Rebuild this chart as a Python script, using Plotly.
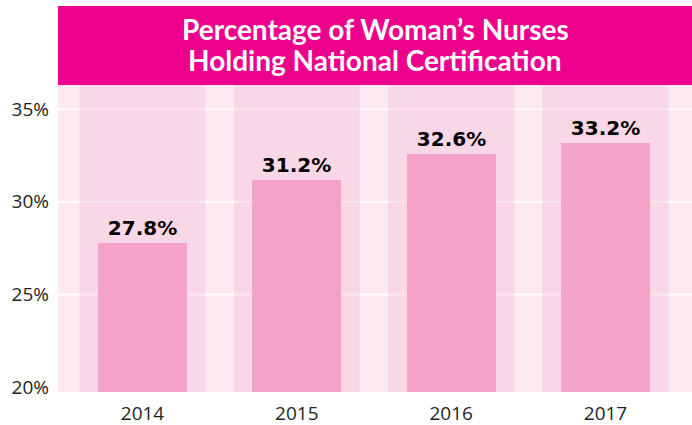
import plotly.graph_objects as go

years = ["2014", "2015", "2016", "2017"]
values = [27.8, 31.2, 32.6, 33.2]
y_ticks = [20, 25, 30, 35]
title_lines = ["Percentage of Woman\u2019s Nurses", "Holding National Certification"]

BANNER = "#EC008C"
BG = "#FBE8F0"
BAND = "rgba(247,196,218,0.45)"
BAR = "rgba(243,158,197,0.93)"

W, H = 692, 425
M_L, M_R, M_T, M_B = 58, 0, 85, 33
plot_h = H - M_T - M_B

def py(px):
    """pixel row (from top) -> paper y"""
    return (H - M_B - px) / plot_h

fig = go.Figure()
fig.add_trace(go.Bar(
    x=list(range(len(years))),
    y=values,
    width=0.577,
    marker=dict(color=BAR, line=dict(width=0)),
    text=[f"{v:.1f}%" for v in values],
    textposition="outside",
    textfont=dict(family="DejaVu Sans", size=20, color="#000000", weight="bold"),
    cliponaxis=False,
    hoverinfo="skip",
))

shapes = []
# white gridlines (not at the bottom tick)
for t in y_ticks[1:]:
    shapes.append(dict(type="line", xref="paper", yref="y", x0=0, x1=1, y0=t, y1=t,
                       line=dict(color="white", width=2), layer="between"))
# category bands
for i in range(len(years)):
    shapes.append(dict(type="rect", xref="x", yref="paper", x0=i - 0.408, x1=i + 0.408,
                       y0=0, y1=1, fillcolor=BAND, line=dict(width=0), layer="between"))
# title banner
shapes.append(dict(type="rect", xref="paper", yref="paper", x0=0, x1=1,
                   y0=1, y1=py(6), fillcolor=BANNER, line=dict(width=0), layer="above"))

annotations = []
for line, cy in zip(title_lines, [29.5, 60]):
    annotations.append(dict(
        text="<b>" + line + "</b>",
        xref="paper", yref="paper", x=0.5, y=py(cy),
        xanchor="center", yanchor="middle", showarrow=False,
        font=dict(family="Lato", size=28, color="white"),
    ))

fig.update_layout(
    width=W, height=H,
    margin=dict(l=M_L, r=M_R, t=M_T, b=M_B, autoexpand=False),
    paper_bgcolor="white",
    plot_bgcolor=BG,
    showlegend=False,
    shapes=shapes,
    bargap=0,
    annotations=annotations,
    xaxis=dict(
        range=[-0.5475, 3.5605],
        tickvals=list(range(len(years))), ticktext=years,
        showgrid=False, zeroline=False, showline=False, ticks="",
        tickfont=dict(family="Open Sans", size=19, color="#231F20"),
        ticklabelstandoff=8, automargin=False,
    ),
    yaxis=dict(
        range=[19.73, 36.31],
        tickvals=y_ticks, ticktext=[f"{t}%" for t in y_ticks],
        showgrid=False,
        zeroline=False, showline=False, ticks="",
        tickfont=dict(family="Open Sans", size=19, color="#231F20"),
        ticklabelstandoff=8, automargin=False,
    ),
)

fig.write_html("out.html", config={"displayModeBar": False},
               post_script="document.body.style.margin='0';document.body.style.overflow='hidden';")
